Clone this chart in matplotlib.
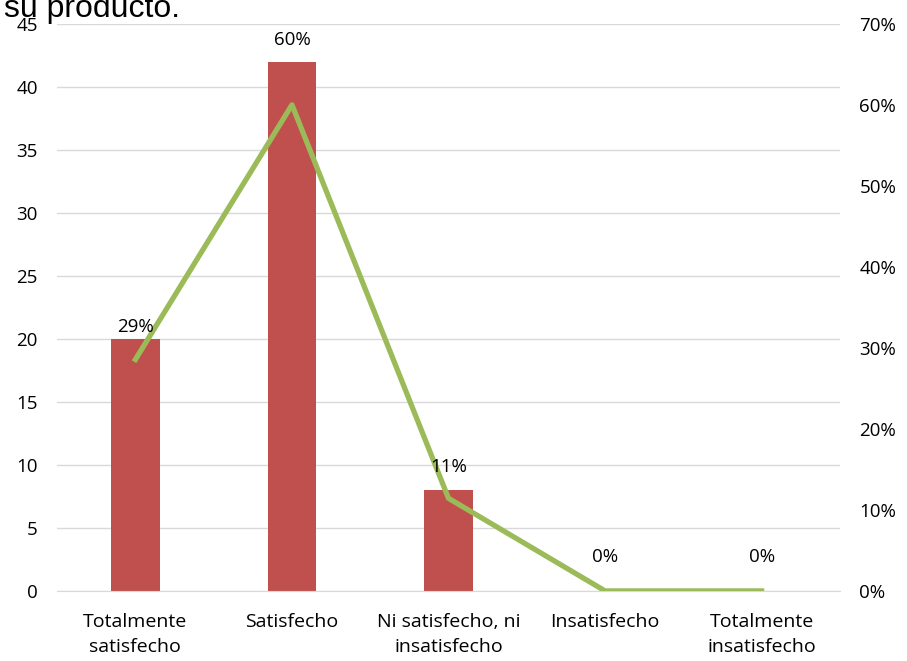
import matplotlib.pyplot as plt
from matplotlib.ticker import FuncFormatter

categorias = ["Totalmente\nsatisfecho", "Satisfecho", "Ni satisfecho, ni\ninsatisfecho",
              "Insatisfecho", "Totalmente\ninsatisfecho"]
frecuencia = [20, 42, 8, 0, 0]
porcentaje = [0.2857, 0.60, 0.1143, 0.0, 0.0]
etiquetas = ["29%", "60%", "11%", "0%", "0%"]

# separacion de cada etiqueta sobre su barra (puntos), como en el original
desplaz = [2, 9, 10, 18, 18]

plt.rcParams['font.family'] = ['Open Sans', 'DejaVu Sans']

fig = plt.figure(figsize=(9.07, 6.61), dpi=100)
ax = fig.add_axes([0.063, 0.106, 0.863, 0.858])
x = list(range(len(categorias)))

ax.bar(x, frecuencia, width=0.31, color="#C0504D", zorder=2)
ax.set_xlim(-0.5, 4.5)
ax.set_ylim(0, 45)
ax.set_yticks(range(0, 46, 5))
ax.set_xticks(x)
ax.set_xticklabels(categorias, fontsize=14, linespacing=1.5)
ax.tick_params(axis='y', labelsize=13.5, length=0, pad=14)
ax.tick_params(axis='x', length=0, pad=16)
ax.grid(axis='y', color="#D9D9D9", linewidth=1, zorder=0)
for s in ax.spines.values():
    s.set_visible(False)
ax.spines['bottom'].set_visible(True)
ax.spines['bottom'].set_color("#D9D9D9")

ax2 = ax.twinx()
ax2.plot(x, porcentaje, color="#9BBB59", linewidth=3.8, zorder=3)
ax2.set_ylim(0, 0.70)
ax2.set_yticks([i / 10 for i in range(8)])
ax2.yaxis.set_major_formatter(FuncFormatter(lambda v, p: f"{v:.0%}"))
ax2.tick_params(axis='y', labelsize=13.5, length=0, pad=14)
for s in ax2.spines.values():
    s.set_visible(False)

# etiquetas sobre las barras, dibujadas encima de la linea
for xi, v, lab, d in zip(x, frecuencia, etiquetas, desplaz):
    ax2.annotate(lab, (xi, v), xycoords=ax.transData, xytext=(0, d),
                 textcoords="offset points", ha='center', va='bottom',
                 fontsize=13.5, zorder=5)

fig.text(0.004, 1 - 17 / 661, "su producto.", fontsize=23, va='baseline',
         family='Liberation Sans')

fig.savefig("out.png", dpi=100)
